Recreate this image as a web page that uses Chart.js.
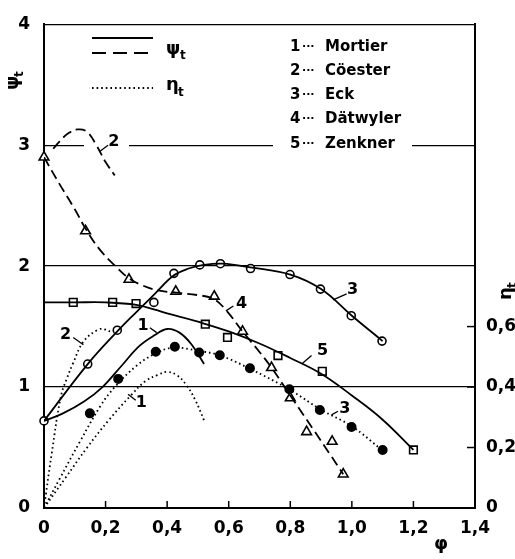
<!DOCTYPE html>
<html>
<head>
<meta charset="utf-8">
<script src="https://cdn.jsdelivr.net/npm/chart.js@4/dist/chart.umd.min.js"></script>
<style>
  html, body { margin: 0; padding: 0; background: #fff; }
  canvas { display: block; }
</style>
</head>
<body>
<canvas id="c" width="515" height="559"></canvas>
<script>
// axes
const xTicks = [0, 0.2, 0.4, 0.6, 0.8, 1.0, 1.2, 1.4];
const xTickLabels = ['0', '0,2', '0,4', '0,6', '0,8', '1,0', '1,2', '1,4'];
const psiTicks = [0, 1, 2, 3, 4];
const etaTicks = [0, 0.2, 0.4, 0.6];
const etaTickLabels = ['0', '0,2', '0,4', '0,6'];

// 1 Mortier
const mortierPsiPhi = [0, 0.06, 0.13, 0.19, 0.25, 0.31, 0.36, 0.40, 0.44, 0.48, 0.52];
const mortierPsi    = [0.72, 0.78, 0.88, 1.0, 1.17, 1.34, 1.43, 1.48, 1.45, 1.35, 1.19];
const mortierEtaPhi = [0, 0.07, 0.14, 0.21, 0.28, 0.33, 0.37, 0.40, 0.43, 0.46, 0.49, 0.52];
const mortierEta    = [0, 0.10, 0.20, 0.29, 0.37, 0.42, 0.44, 0.45, 0.44, 0.41, 0.36, 0.29];

// 2 Cöester
const coesterPsiPhi = [0.03, 0.05, 0.08, 0.11, 0.14, 0.17, 0.20, 0.23];
const coesterPsi    = [2.97, 3.03, 3.10, 3.13, 3.11, 3.00, 2.86, 2.75];
const coesterEtaPhi = [0, 0.025, 0.055, 0.075, 0.095, 0.128, 0.176, 0.20, 0.22];
const coesterEta    = [0, 0.18, 0.37, 0.43, 0.48, 0.55, 0.59, 0.59, 0.58];

// 3 Eck
const eckPsiFitPhi = [0, 0.142, 0.238, 0.30, 0.36, 0.42, 0.47, 0.52, 0.58, 0.67, 0.80, 0.90, 1.0, 1.1];
const eckPsiFit    = [0.72, 1.19, 1.46, 1.62, 1.77, 1.92, 1.98, 2.01, 2.02, 1.99, 1.93, 1.81, 1.59, 1.38];
const eckPsiPhi = [0, 0.142, 0.238, 0.357, 0.422, 0.506, 0.573, 0.671, 0.799, 0.898, 0.998, 1.098];
const eckPsi    = [0.72, 1.19, 1.47, 1.70, 1.94, 2.01, 2.02, 1.98, 1.93, 1.81, 1.59, 1.38];
const eckEtaFitPhi = [0, 0.05, 0.117, 0.185, 0.23, 0.30, 0.36, 0.42, 0.50, 0.57, 0.67, 0.80, 0.90, 1.0, 1.1];
const eckEtaFit    = [0, 0.095, 0.22, 0.34, 0.40, 0.47, 0.51, 0.53, 0.52, 0.505, 0.46, 0.39, 0.325, 0.27, 0.19];
const eckEtaPhi = [0.149, 0.241, 0.363, 0.425, 0.504, 0.571, 0.669, 0.797, 0.896, 0.999, 1.10];
const eckEta    = [0.313, 0.427, 0.517, 0.533, 0.514, 0.505, 0.462, 0.393, 0.324, 0.268, 0.192];

// 4 Dätwyler
const datFitPhi = [0, 0.05, 0.10, 0.135, 0.18, 0.236, 0.276, 0.32, 0.37, 0.43, 0.50, 0.55, 0.59, 0.645, 0.70, 0.739, 0.80, 0.88, 0.93, 0.972];
const datFit    = [2.90, 2.68, 2.47, 2.31, 2.14, 1.99, 1.90, 1.84, 1.80, 1.78, 1.76, 1.73, 1.64, 1.46, 1.29, 1.16, 0.93, 0.63, 0.44, 0.28];
const datPhi = [0, 0.135, 0.276, 0.428, 0.553, 0.645, 0.739, 0.80, 0.853, 0.936, 0.972];
const datPsi = [2.90, 2.29, 1.89, 1.79, 1.75, 1.46, 1.16, 0.91, 0.63, 0.55, 0.28];

// 5 Zenkner
const zenFitPhi = [0, 0.1, 0.2, 0.3, 0.36, 0.4, 0.5, 0.6, 0.7, 0.8, 0.9, 1.0, 1.1, 1.2];
const zenFit    = [1.70, 1.70, 1.70, 1.68, 1.64, 1.61, 1.54, 1.46, 1.36, 1.24, 1.11, 0.93, 0.73, 0.48];
const zenPhi = [0.095, 0.223, 0.299, 0.524, 0.596, 0.76, 0.904, 1.2];
const zenPsi = [1.70, 1.70, 1.69, 1.52, 1.41, 1.26, 1.13, 0.48];

// legend
const legendNums  = ['1', '2', '3', '4', '5'];
const legendNames = ['Mortier', 'Cöester', 'Eck', 'Dätwyler', 'Zenkner'];

// curve labels (phi, psi) and leader strokes
const curveLabels = ['2', '2', '1', '1', '3', '4', '5', '3'];
const labelPhi = [0.227, 0.07, 0.322, 0.316, 1.002, 0.642, 0.905, 0.977];
const labelPsi = [3.03, 1.43, 1.51, 0.87, 1.80, 1.69, 1.30, 0.82];
const leaderFrom = [[0.182, 2.95], [0.128, 1.35], [0.366, 1.45], [0.273, 0.94], [0.939, 1.72], [0.591, 1.63], [0.837, 1.19], [0.934, 0.77]];
const leaderTo   = [[0.208, 3.00], [0.095, 1.41], [0.344, 1.49], [0.298, 0.89], [0.983, 1.77], [0.615, 1.67], [0.869, 1.26], [0.955, 0.80]];

const pts = (xs, ys) => xs.map((v, i) => ({ x: v, y: ys[i] }));
const FONT = 'DejaVu Sans';
const DOTS = [1.6, 3];
const DASH = [10, 5];

function curve(data, dash, axis) {
  return {
    data, yAxisID: axis || 'y', borderColor: '#000', borderWidth: 1.8,
    borderDash: dash || [], pointRadius: 0, tension: 0.4, fill: false
  };
}
function marks(data, style, filled, r, axis) {
  return {
    data, yAxisID: axis || 'y', showLine: false, pointStyle: style,
    pointRadius: r, borderColor: '#000', borderWidth: 1.6,
    pointBackgroundColor: filled ? '#000' : '#fff', clip: false
  };
}

const deco = {
  id: 'deco',
  beforeDatasetsDraw(chart) {
    const { ctx, scales: { y } } = chart;
    const y3 = y.getPixelForValue(3);
    ctx.save();
    ctx.fillStyle = '#fff';
    ctx.fillRect(273, y3 - 3, 139, 6);
    ctx.fillRect(84, y3 - 3, 45, 6);
    ctx.restore();
  },
  afterDraw(chart) {
    const { ctx, chartArea: a, scales: { x, y, y2 } } = chart;
    ctx.save();
    ctx.strokeStyle = '#000';
    ctx.fillStyle = '#000';
    // inward ticks
    ctx.lineWidth = 1.5;
    xTicks.slice(1, -1).forEach(v => {
      const px = x.getPixelForValue(v);
      ctx.beginPath(); ctx.moveTo(px, a.bottom); ctx.lineTo(px, a.bottom - 7); ctx.stroke();
    });
    etaTicks.slice(1).forEach(v => {
      const py = y2.getPixelForValue(v);
      ctx.beginPath(); ctx.moveTo(a.right, py); ctx.lineTo(a.right - 8, py); ctx.stroke();
    });

    // key of line styles
    ctx.lineWidth = 1.8;
    [[38, []], [53, [14, 7]], [88, DOTS]].forEach(([py, d]) => {
      ctx.setLineDash(d);
      ctx.beginPath(); ctx.moveTo(92, py); ctx.lineTo(153, py); ctx.stroke();
    });
    ctx.setLineDash([]);
    ctx.textBaseline = 'alphabetic';
    ctx.textAlign = 'left';
    ctx.font = 'bold 18px ' + FONT;
    ctx.fillText('ψ', 166, 54);
    ctx.fillText('η', 166, 90);
    ctx.font = 'bold 12px ' + FONT;
    ctx.fillText('t', 180, 59);
    ctx.fillText('t', 178, 96);

    // author legend
    ctx.textBaseline = 'middle';
    legendNums.forEach((n, i) => {
      const py = 47 + i * 24.2;
      ctx.font = 'bold 15px ' + FONT;
      ctx.fillText(n, 290, py);
      ctx.fillText(legendNames[i], 325, py);
      ctx.font = 'bold 11px ' + FONT;
      ctx.fillText('···', 302, py);
    });

    // curve labels
    ctx.font = 'bold 16px ' + FONT;
    ctx.textAlign = 'center';
    ctx.lineWidth = 1.3;
    curveLabels.forEach((t, i) => {
      ctx.fillText(t, x.getPixelForValue(labelPhi[i]), y.getPixelForValue(labelPsi[i]));
      ctx.beginPath();
      ctx.moveTo(x.getPixelForValue(leaderFrom[i][0]), y.getPixelForValue(leaderFrom[i][1]));
      ctx.lineTo(x.getPixelForValue(leaderTo[i][0]), y.getPixelForValue(leaderTo[i][1]));
      ctx.stroke();
    });

    // axis titles
    ctx.textBaseline = 'alphabetic';
    ctx.textAlign = 'left';
    ctx.save();
    ctx.translate(18, 90);
    ctx.rotate(-Math.PI / 2);
    ctx.font = 'bold 18px ' + FONT;
    ctx.fillText('ψ', 0, 0);
    ctx.font = 'bold 12px ' + FONT;
    ctx.fillText('t', 13, 5);
    ctx.restore();
    ctx.save();
    ctx.translate(511, 300);
    ctx.rotate(-Math.PI / 2);
    ctx.font = 'bold 18px ' + FONT;
    ctx.fillText('η', 0, 0);
    ctx.font = 'bold 12px ' + FONT;
    ctx.fillText('t', 12, 5);
    ctx.restore();
    ctx.textAlign = 'center';
    ctx.font = 'bold 18px ' + FONT;
    ctx.fillText('φ', 441, 549);
    ctx.restore();
  }
};

Chart.defaults.font.family = FONT;
Chart.defaults.font.size = 17;
Chart.defaults.font.weight = 'bold';
Chart.defaults.color = '#000';

new Chart(document.getElementById('c'), {
  type: 'line',
  data: {
    datasets: [
      curve(pts(mortierPsiPhi, mortierPsi)),
      curve(pts(coesterPsiPhi, coesterPsi), DASH),
      curve(pts(eckPsiFitPhi, eckPsiFit)),
      marks(pts(eckPsiPhi, eckPsi), 'circle', false, 4),
      curve(pts(datFitPhi, datFit), DASH),
      marks(pts(datPhi, datPsi), 'triangle', false, 5.6),
      curve(pts(zenFitPhi, zenFit)),
      marks(pts(zenPhi, zenPsi), 'rect', false, 5.4),
      curve(pts(mortierEtaPhi, mortierEta), DOTS, 'y2'),
      curve(pts(coesterEtaPhi, coesterEta), DOTS, 'y2'),
      curve(pts(eckEtaFitPhi, eckEtaFit), DOTS, 'y2'),
      marks(pts(eckEtaPhi, eckEta), 'circle', true, 4.2, 'y2')
    ]
  },
  options: {
    responsive: false,
    animation: false,
    events: [],
    layout: { padding: { top: 16 } },
    plugins: { legend: { display: false }, tooltip: { enabled: false } },
    scales: {
      x: {
        type: 'linear', min: 0, max: 1.4,
        afterBuildTicks: s => { s.ticks = xTicks.map(v => ({ value: v })); },
        afterFit: s => { s.height = 51; },
        ticks: { callback: (v, i) => xTickLabels[i], padding: 10, maxRotation: 0, autoSkip: false },
        grid: { display: false, drawTicks: false },
        border: { color: '#000', width: 2 }
      },
      y: {
        min: 0, max: 4,
        afterBuildTicks: s => { s.ticks = psiTicks.map(v => ({ value: v })); },
        afterFit: s => { s.width = 44; },
        ticks: { padding: 14 },
        grid: { color: '#000', lineWidth: 1.3, drawTicks: false },
        border: { color: '#000', width: 2 }
      },
      y2: {
        position: 'right', min: 0, max: 1.6,
        afterBuildTicks: s => { s.ticks = etaTicks.map(v => ({ value: v })); },
        afterFit: s => { s.width = 40; },
        ticks: { callback: (v, i) => etaTickLabels[i], padding: 11 },
        grid: { display: false, drawTicks: false },
        border: { color: '#000', width: 2 }
      }
    }
  },
  plugins: [deco]
});
</script>
</body>
</html>
